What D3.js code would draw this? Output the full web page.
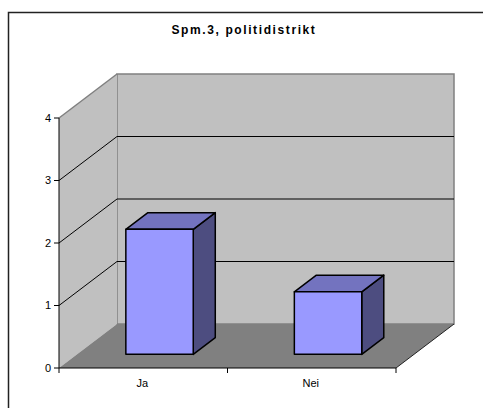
<!DOCTYPE html>
<html><head><meta charset="utf-8">
<script src="https://cdn.jsdelivr.net/npm/d3@7"></script>
<style>html,body{margin:0;padding:0;background:#fff;overflow:hidden}svg{display:block}</style>
</head><body>
<svg id="c" width="483" height="408"></svg>
<script>
const title = "Spm.3, politidistrikt";
const categories = ["Ja", "Nei"];
const values = [2, 1];
const yTicks = [0, 1, 2, 3, 4];

const svg = d3.select("#c");
const DX = 58, DY = -44;
const x = d3.scaleBand().domain(categories).range([59, 396]);
const y = d3.scaleLinear().domain([0, 4]).range([368, 118]);
const p = (px, v, z) => [px + z * DX, y(v) + z * DY];
const poly = pts => "M" + pts.map(q => q.join(",")).join("L") + "Z";
const x0 = x.range()[0], x1 = x.range()[1];

// outer border (clipped by window)
svg.append("rect").attr("x", 8.5).attr("y", 12.5).attr("width", 500).attr("height", 420)
  .attr("fill", "#fff").attr("stroke", "#222").attr("stroke-width", 1.5);

svg.append("text").attr("x", 244).attr("y", 34).attr("text-anchor", "middle")
  .attr("font-family", "Liberation Sans, Arial, sans-serif").attr("font-weight", "bold")
  .attr("font-size", 12).attr("letter-spacing", 1.6).text(title);

// back wall
const bw = [p(x0, 4, 1), p(x1, 4, 1), p(x1, 0, 1), p(x0, 0, 1)];
svg.append("path").attr("d", poly(bw)).attr("fill", "#C0C0C0").attr("stroke", "#808080").attr("stroke-width", 1.5);
// left wall
const lw = [p(x0, 4, 0), p(x0, 4, 1), p(x0, 0, 1), p(x0, 0, 0)];
svg.append("path").attr("d", poly(lw)).attr("fill", "#C0C0C0").attr("stroke", "none");
svg.append("path").attr("d", "M" + p(x0, 4, 0).join(",") + "L" + p(x0, 4, 1).join(","))
  .attr("stroke", "#808080").attr("stroke-width", 1.5).attr("fill", "none");
// floor
const fl = [p(x0, 0, 0), p(x1, 0, 0), p(x1, 0, 1), p(x0, 0, 1)];
svg.append("path").attr("d", poly(fl)).attr("fill", "#808080").attr("stroke", "none");
svg.append("path").attr("d", "M" + p(x1, 0, 0).join(",") + "L" + p(x1, 0, 1).join(","))
  .attr("stroke", "#222").attr("stroke-width", 1).attr("fill", "none");

// gridlines
yTicks.filter(t => t > 0 && t < 4).forEach(t => {
  svg.append("path").attr("d", "M" + p(x0, t, 0).join(",") + "L" + p(x0, t, 1).join(",") + "L" + p(x1, t, 1).join(","))
    .attr("stroke", "#000").attr("stroke-width", 1).attr("fill", "none");
});

// axes
svg.append("line").attr("x1", x0).attr("x2", x0).attr("y1", y(4)).attr("y2", y(0)).attr("stroke", "#000");
svg.append("line").attr("x1", x0).attr("x2", x1).attr("y1", y(0)).attr("y2", y(0)).attr("stroke", "#000");
yTicks.forEach(t => {
  svg.append("line").attr("x1", x0 - 5).attr("x2", x0).attr("y1", y(t)).attr("y2", y(t)).attr("stroke", "#000");
  svg.append("text").attr("x", x0 - 8).attr("y", y(t)).attr("dy", "0.36em").attr("text-anchor", "end")
    .attr("font-family", "Liberation Sans, Arial, sans-serif").attr("font-size", 11).attr("fill", "#000").text(t);
});
[x0, ...categories.map(c => x(c) + x.bandwidth())].forEach(tx => {
  svg.append("line").attr("x1", tx).attr("x2", tx).attr("y1", y(0)).attr("y2", y(0) + 5).attr("stroke", "#000");
});
categories.forEach(c => {
  svg.append("text").attr("x", x(c) + x.bandwidth() / 2 - 1).attr("y", 387).attr("text-anchor", "middle")
    .attr("font-family", "Liberation Sans, Arial, sans-serif").attr("font-size", 11).attr("fill", "#000").text(c);
});

// bars
const z0 = 0.31, z1 = 0.69;
categories.forEach((c, i) => {
  const v = values[i];
  const a = x(c) + x.bandwidth() * 0.29, b = a + x.bandwidth() * 0.4;
  const g = svg.append("g").attr("stroke", "#000").attr("stroke-width", 1.5).attr("stroke-linejoin", "round");
  g.append("path").attr("d", poly([p(b, 0, z0), p(b, v, z0), p(b, v, z1), p(b, 0, z1)])).attr("fill", "#4D4D80");
  g.append("path").attr("d", poly([p(a, v, z0), p(b, v, z0), p(b, v, z1), p(a, v, z1)])).attr("fill", "#7373BF");
  g.append("path").attr("d", poly([p(a, 0, z0), p(b, 0, z0), p(b, v, z0), p(a, v, z0)])).attr("fill", "#9999FF");
});
</script>
</body></html>
